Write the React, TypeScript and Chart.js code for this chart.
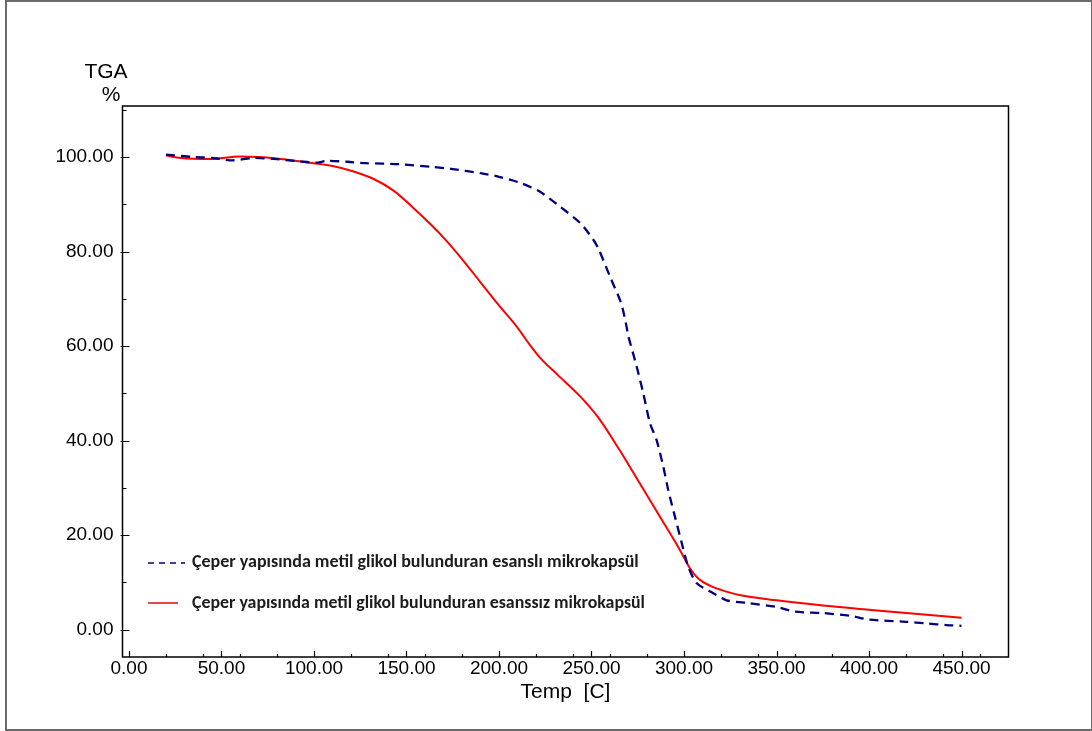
import React, { useEffect, useRef } from "react";
import { Chart, registerables } from "chart.js";

Chart.register(...registerables);

// Sample with essence (dashed navy)
const esansliTemp = [
  20, 35, 45, 56, 67, 78, 92, 101, 107, 118, 128, 146, 164, 174, 190, 198, 211, 222, 233, 244,
  251, 254, 260, 266, 268.6, 270, 274.4, 278, 281.6, 285.2, 288.8, 291.5, 295.1, 298.8, 302.3,
  306.9, 315.8, 323, 335, 350, 360, 375, 390, 400, 420, 431, 442, 450,
];
const esansliTGA = [
  100.5, 100.0, 99.8, 99.3, 99.8, 99.6, 99.1, 98.8, 99.2, 99.0, 98.7, 98.5, 97.9, 97.5, 96.6, 96.0,
  94.6, 92.7, 89.5, 86.0, 82.5, 80.4, 74.7, 69.1, 64.8, 62.0, 55.7, 50.0, 43.7, 40.1, 34.5, 29.5,
  23.9, 18.3, 13.3, 9.8, 7.7, 6.2, 5.6, 4.8, 3.8, 3.5, 2.9, 2.1, 1.65, 1.3, 0.95, 0.8,
];

// Sample without essence (solid red)
const esanssizTemp = [
  20, 28, 44, 60, 70, 82, 92, 100, 110, 121, 132, 143, 153, 164, 172, 180, 190, 200, 210, 216,
  222, 232, 244, 254, 265, 276, 287, 298, 303, 308, 314, 320, 330, 350, 375, 400, 417, 450,
];
const esanssizTGA = [
  100.3, 99.8, 99.6, 100.1, 100.0, 99.6, 99.1, 98.7, 98.1, 97.0, 95.4, 92.9, 89.5, 85.4, 82.1,
  78.4, 73.5, 68.6, 63.9, 60.6, 57.6, 53.8, 49.3, 44.7, 38.1, 31.0, 23.9, 16.7, 13.1, 10.7, 9.3,
  8.4, 7.3, 6.2, 5.1, 4.2, 3.6, 2.5,
];

const xTickValues = [0, 50, 100, 150, 200, 250, 300, 350, 400, 450];
const yTickValues = [0, 20, 40, 60, 80, 100];

const seriesLabels = [
  "Çeper yapısında metil glikol bulunduran esanslı mikrokapsül",
  "Çeper yapısında metil glikol bulunduran esanssız mikrokapsül",
];
const yTitleLines = ["TGA", "%"];
const xTitle = "Temp  [C]";

const W = 1092;
const H = 731;
const axisFont = '"Liberation Sans", Arial, sans-serif';

const decorations = {
  id: "decorations",
  beforeDraw(chart: any) {
    const ctx = chart.ctx;
    ctx.save();
    ctx.fillStyle = "#fff";
    ctx.fillRect(0, 0, W, H);
    ctx.strokeStyle = "#6a6a6a";
    ctx.lineWidth = 2;
    ctx.strokeRect(6, 1, W - 6, H - 2);
    ctx.restore();
  },
  afterDraw(chart: any) {
    const { ctx, chartArea: a, scales } = chart;
    const x = scales.x;
    const y = scales.y;
    ctx.save();
    ctx.strokeStyle = "#000";
    ctx.lineWidth = 1.5;
    ctx.strokeRect(a.left, a.top, a.right - a.left, a.bottom - a.top);

    ctx.lineWidth = 1.2;
    ctx.beginPath();
    for (let v = 0; v <= x.max; v += 10) {
      const major = v % 50 === 0;
      const minor = v % 20 === 0;
      if (!major && !minor) continue;
      const px = Math.round(x.getPixelForValue(v)) + 0.5;
      const len = major ? 6 : 3;
      ctx.moveTo(px, a.bottom);
      ctx.lineTo(px, a.bottom - len);
    }
    for (let v = 0; v <= y.max; v += 10) {
      const major = v % 20 === 0;
      const py = Math.round(y.getPixelForValue(v)) + 0.5;
      ctx.moveTo(major ? a.left - 2 : a.left, py);
      ctx.lineTo(a.left + (major ? 7 : 4), py);
    }
    ctx.stroke();

    // axis titles
    ctx.fillStyle = "#000";
    ctx.font = `21px ${axisFont}`;
    ctx.textAlign = "center";
    ctx.textBaseline = "middle";
    ctx.fillText(yTitleLines[0], 106, 72);
    ctx.fillText(yTitleLines[1], 111, 95);
    ctx.fillText(xTitle, (a.left + a.right) / 2, 692);

    // legend
    ctx.font = 'bold 18px Carlito, Lato, "Noto Sans", sans-serif';
    ctx.textAlign = "left";
    ctx.fillStyle = "#1c1c1c";
    ctx.strokeStyle = "#000080";
    ctx.lineWidth = 1.5;
    ctx.setLineDash([6, 5]);
    ctx.beginPath();
    ctx.moveTo(148, 563);
    ctx.lineTo(185, 563);
    ctx.stroke();
    ctx.setLineDash([]);
    ctx.fillText(seriesLabels[0], 192, 562, 448);

    ctx.strokeStyle = "#d01010";
    ctx.beginPath();
    ctx.moveTo(148, 603);
    ctx.lineTo(178, 603);
    ctx.stroke();
    ctx.fillText(seriesLabels[1], 192, 603, 453);
    ctx.restore();
  },
};

export default function App() {
  const canvasRef = useRef<HTMLCanvasElement | null>(null);

  useEffect(() => {
    document.body.style.margin = "0";
    const canvas = canvasRef.current;
    if (!canvas) return;
    const tickFont = { family: axisFont, size: 19 };
    const chart = new Chart(canvas, {
      type: "line",
      data: {
        datasets: [
          {
            label: seriesLabels[0],
            data: esansliTemp.map((t, i) => ({ x: t, y: esansliTGA[i] })),
            borderColor: "#000080",
            borderWidth: 2.3,
            borderDash: [9, 6],
            pointRadius: 0,
            tension: 0.25,
            fill: false,
          },
          {
            label: seriesLabels[1],
            data: esanssizTemp.map((t, i) => ({ x: t, y: esanssizTGA[i] })),
            borderColor: "#ff0000",
            borderWidth: 2,
            pointRadius: 0,
            cubicInterpolationMode: "monotone",
            fill: false,
          },
        ],
      },
      options: {
        animation: false,
        responsive: false,
        devicePixelRatio: 1,
        layout: { padding: { top: 106, right: 83.5, left: 0, bottom: 0 } },
        plugins: { legend: { display: false }, tooltip: { enabled: false } },
        scales: {
          x: {
            type: "linear",
            min: -3.5,
            max: 475.4,
            afterBuildTicks: (s: any) => {
              s.ticks = xTickValues.map((value) => ({ value }));
            },
            afterFit: (s: any) => {
              s.height = 74;
            },
            grid: { display: false, drawTicks: false },
            border: { display: false },
            ticks: {
              callback: (v: any) => Number(v).toFixed(2),
              font: tickFont,
              color: "#000",
              padding: 0,
              maxRotation: 0,
              autoSkip: false,
            },
          },
          y: {
            type: "linear",
            min: -5.8,
            max: 110.8,
            afterBuildTicks: (s: any) => {
              s.ticks = yTickValues.map((value) => ({ value }));
            },
            afterFit: (s: any) => {
              s.width = 122.5;
            },
            grid: { display: false, drawTicks: false },
            border: { display: false },
            ticks: {
              callback: (v: any) => Number(v).toFixed(2),
              font: tickFont,
              color: "#000",
              padding: 9,
              autoSkip: false,
            },
          },
        },
      },
      plugins: [decorations],
    });
    return () => chart.destroy();
  }, []);

  return (
    <div style={{ width: W, height: H }}>
      <canvas ref={canvasRef} width={W} height={H} style={{ width: W, height: H, display: "block" }} />
    </div>
  );
}
